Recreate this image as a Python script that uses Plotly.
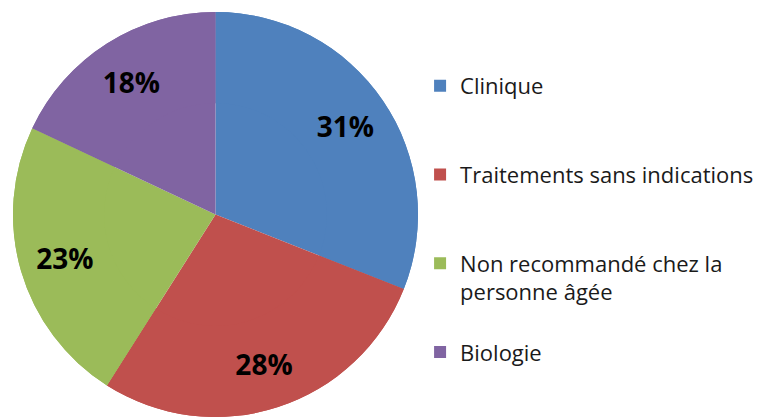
import plotly.graph_objects as go

labels = ["Clinique", "Traitements sans indications", "Non recommandé chez la<br>personne âgée", "Biologie"]
values = [31, 28, 23, 18]
colors = ["#4F81BD", "#C0504D", "#9BBB59", "#8064A2"]

# legend spacing padding lines
pad = ["<br>\u00a0<br>\u00a0", "<br>\u00a0<br>\u00a0", "<br>\u00a0", ""]
legend_labels = [l + p for l, p in zip(labels, pad)]

W, H = 761, 409
dom = dict(x=[5 / W, 410 / W], y=[0.0, (H - 4) / H])

common = dict(
    labels=legend_labels,
    values=values,
    sort=False,
    direction="clockwise",
    rotation=0,
    marker=dict(colors=colors, line=dict(width=0)),
    domain=dom,
    hoverinfo="label+percent",
)

fig = go.Figure()
fig.add_trace(go.Pie(**common, textinfo="none", showlegend=True))
fig.add_trace(go.Pie(
    **common,
    hole=0.55,
    showlegend=False,
    texttemplate="%{percent:.0%}",
    textposition="inside",
    insidetextorientation="horizontal",
    textfont=dict(family="Open Sans", size=28, color="black", weight="bold"),
))

fig.update_layout(
    width=W, height=H,
    margin=dict(l=0, r=0, t=0, b=0),
    paper_bgcolor="white",
    showlegend=True,
    legend=dict(
        x=0.5415, y=0.861, xanchor="left", yanchor="top",
        valign="top",
        font=dict(family="Open Sans", size=22, color="#1a1a1a"),
        itemwidth=30,
        tracegroupgap=0,
    ),
)

fig.write_html("out.html")
